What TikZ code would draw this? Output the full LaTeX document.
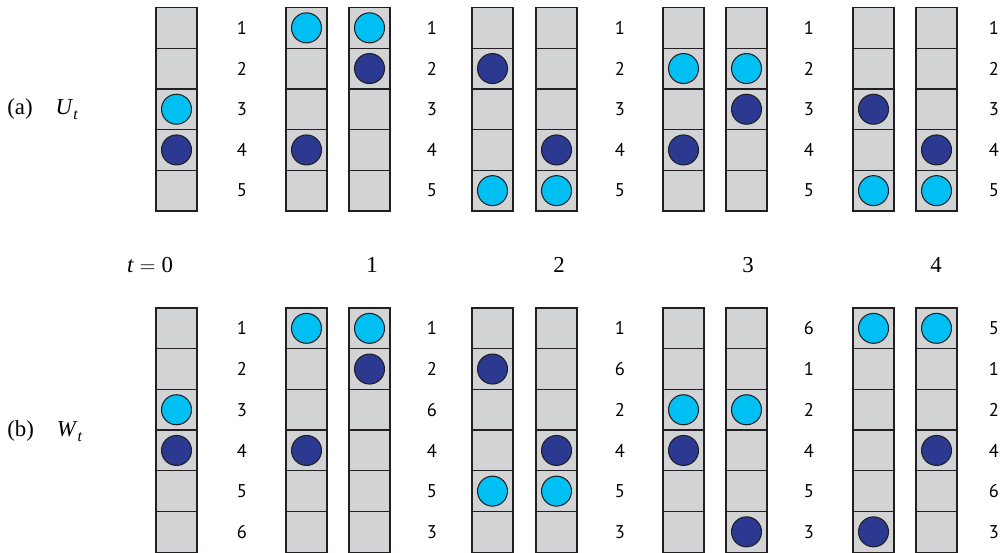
\documentclass[tikz,border=0pt]{standalone}
\usepackage{fontspec}
\setmainfont{Liberation Serif}
\newfontfamily\numfont{PT Sans}
\usepackage{tikz}
\usetikzlibrary{positioning}
\usepackage{xcolor}
\definecolor{cellgray}{HTML}{D1D3D4}
\definecolor{ballcyan}{HTML}{00BFF3}
\definecolor{ballnavy}{HTML}{2B3990}
\definecolor{edgegray}{HTML}{231F20}

\tikzset{
  cell/.style = {fill=cellgray, draw=edgegray, line width=0.75pt},
  lightball/.style = {fill=ballcyan, draw=edgegray, line width=0.6pt},
  darkball/.style = {fill=ballnavy, draw=edgegray, line width=0.6pt},
  num/.style = {font=\numfont\fontsize{10.5}{12}\selectfont, inner sep=0pt},
  txt/.style = {font=\fontsize{13}{15}\selectfont, inner sep=0pt}
}

\begin{document}
\begin{tikzpicture}[x=0.02cm, y=-0.02cm]
  \useasboundingbox (0,0) rectangle (1000,553);

  % (a) U_t : five sites
  \foreach \x/\lt/\dk in {156/3/4, 286/1/4, 349/1/2, 472/5/2, 536/5/4,
                          663/2/4, 726/2/3, 853/5/3, 916/5/4} {
    \foreach \r in {0,...,4}
      \draw [cell] (\x,7.5+40.7*\r) rectangle ++(41,40.7);
    \draw [lightball] (\x+20.5,7.5+40.7*\lt-20.35) circle (0.3cm);
    \draw [darkball] (\x+20.5,7.5+40.7*\dk-20.35) circle (0.3cm);
  }
  \foreach \x in {242,432,620,809,994}
    \foreach \r in {1,...,5}
      \node [num] (u-\x-\r) at (\x,7.5+40.7*\r-20.35) {\r};

  % (b) W_t : six sites
  \foreach \x/\lt/\dk in {156/3/4, 286/1/4, 349/1/2, 472/5/2, 536/5/4,
                          663/3/4, 726/3/6, 853/1/6, 916/1/4} {
    \foreach \r in {0,...,5}
      \draw [cell] (\x,308+40.7*\r) rectangle ++(41,40.7);
    \draw [lightball] (\x+20.5,308+40.7*\lt-20.35) circle (0.3cm);
    \draw [darkball] (\x+20.5,308+40.7*\dk-20.35) circle (0.3cm);
  }
  \foreach \x/\labs in {242/{1,2,3,4,5,6}, 432/{1,2,6,4,5,3}, 620/{1,6,2,4,5,3},
                        809/{6,1,2,4,5,3}, 994/{5,1,2,4,6,3}}
    \foreach \n [count=\r] in \labs
      \node [num] (w-\x-\r) at (\x,308+40.7*\r-20.35) {\n};

  % row titles and times
  \node [txt, anchor=west] (lbla) at (7,109) {(a)\quad\textit{U}\raisebox{-0.45ex}{\small\textit{t}}};
  \node [txt, anchor=west] (lblb) at (7,431) {(b)\quad\textit{W}\raisebox{-0.45ex}{\small\textit{t}}};
  \node [txt] (t0) at (150,265) {\textit{t}${}={}$0};
  \node [txt] (t1) at (372,265) {1};
  \node [txt] (t2) at (559,265) {2};
  \node [txt] (t3) at (748,265) {3};
  \node [txt] (t4) at (936,265) {4};
\end{tikzpicture}
\end{document}
